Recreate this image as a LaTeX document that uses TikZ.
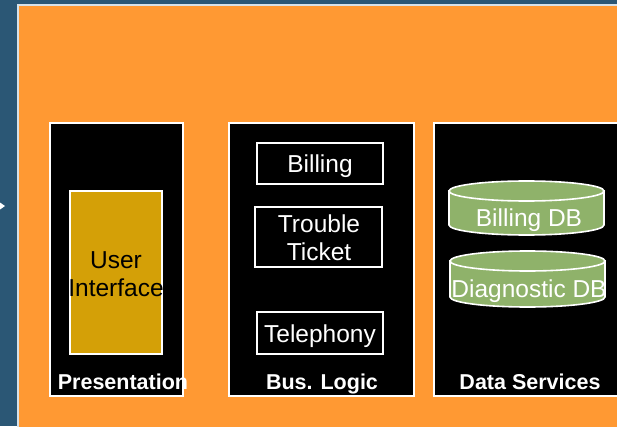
\documentclass[tikz,border=0pt]{standalone}
\usepackage{fontspec}
\setmainfont{Liberation Sans}
\definecolor{bgblue}{HTML}{2B5775}
\definecolor{panelorange}{HTML}{FF9933}
\definecolor{uigold}{HTML}{D4A007}
\definecolor{dbgreen}{HTML}{8FB26A}
\definecolor{rimgrey}{HTML}{D6E2EA}
\tikzset{
  tier/.style={draw=white, line width=2pt, fill=black, inner sep=0pt},
  modbox/.style={draw=white, line width=2pt, fill=black, inner sep=0pt},
  uibox/.style={draw=white, line width=2pt, fill=uigold, inner sep=0pt},
  cyl/.style={draw=white, line width=1.6pt, fill=dbgreen},
  wtext/.style={text=white, font=\fontsize{24.5}{28}\selectfont, anchor=base, inner sep=0pt},
  btext/.style={text=black, font=\fontsize{24.5}{28}\selectfont, anchor=base, inner sep=0pt},
  tiertext/.style={text=white, font=\bfseries\fontsize{21.5}{24}\selectfont, anchor=base, inner sep=0pt}
}
\begin{document}
\begin{tikzpicture}[x=1pt,y=1pt]
\useasboundingbox (0,0) rectangle (617,426);
% background
\fill[bgblue] (0,0) rectangle (617,426);
\fill[white] (0,223.5) -- (5,220) -- (0,216.5) -- cycle;
% orange panel
\path[fill=panelorange, draw=rimgrey, line width=2pt] (18,-10) rectangle (640,421);
% tiers
\node[tier, minimum width=133pt, minimum height=273pt] (pres) at (116.5,166.5) {};
\node[tier, minimum width=185pt, minimum height=273pt] (bus) at (321.5,166.5) {};
\node[tier, minimum width=206pt, minimum height=273pt] (data) at (537,166.5) {};
% presentation
\node[uibox, minimum width=92pt, minimum height=163pt] (ui) at (116,153.5) {};
\node[btext] (uit1) at (116,158) {User};
\node[btext] (uit2) at (116,130) {Interface};
\node[tiertext] (prest) at (123,37) {Presentation};
% business logic
\node[modbox, minimum width=126pt, minimum height=41pt] (bill) at (320,262.5) {};
\node[wtext] (billt) at (320,253) {Billing};
\node[modbox, minimum width=127pt, minimum height=60pt] (tt) at (318.5,189) {};
\node[wtext] (ttt1) at (319,194) {Trouble};
\node[wtext] (ttt2) at (319,166) {Ticket};
\node[modbox, minimum width=126pt, minimum height=42pt] (tel) at (320,93) {};
\node[wtext] (telt) at (320,84) {Telephony};
\node[tiertext] (bust) at (322,37) {Bus. Logic};
% data services
\path[cyl] (449,235) -- (449,201) arc[start angle=180, end angle=360, x radius=77.5, y radius=10] -- (604,235) -- cycle;
\path[cyl] (526.5,235) ellipse[x radius=77.5, y radius=10];
\node[wtext] (bdb) at (529,200) {Billing DB};
\path[cyl] (450,165) -- (450,129) arc[start angle=180, end angle=360, x radius=77.5, y radius=10] -- (605,165) -- cycle;
\path[cyl] (527.5,165) ellipse[x radius=77.5, y radius=10];
\node[wtext] (ddb) at (529,129) {Diagnostic DB};
\node[tiertext] (datat) at (530,37) {Data Services};
\end{tikzpicture}
\end{document}
